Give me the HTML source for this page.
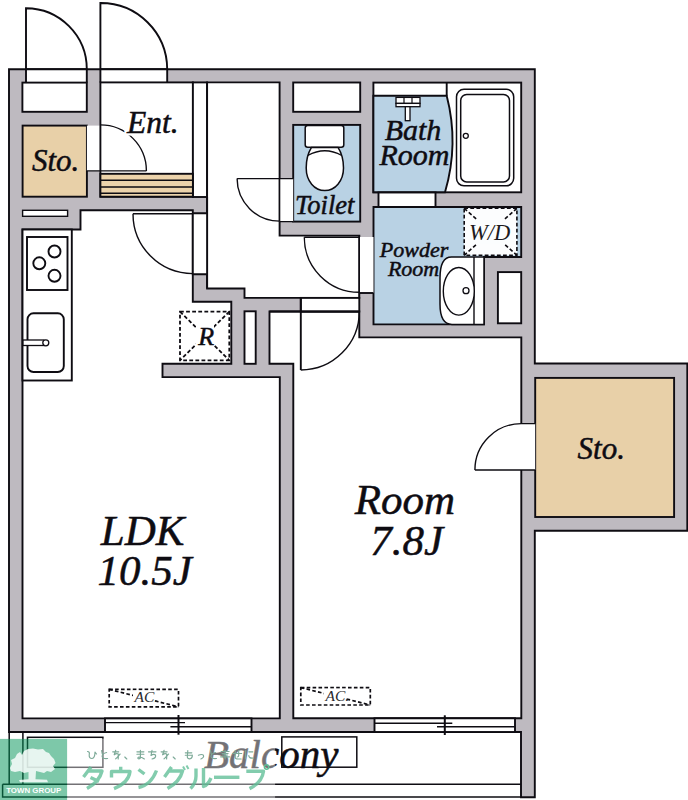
<!DOCTYPE html>
<html><head><meta charset="utf-8">
<style>
html,body{margin:0;padding:0;background:#fff;}
body{width:688px;height:800px;overflow:hidden;}
svg{display:block;}
text{font-family:"Liberation Serif",serif;font-style:italic;fill:#0e0c12;stroke:#0e0c12;stroke-width:0.5;}
.sans{font-family:"Liberation Sans",sans-serif;font-style:normal;}
</style></head>
<body>
<svg width="688" height="800" viewBox="0 0 688 800">
<g fill="none" stroke="#0e0c12" stroke-width="1.9" stroke-linejoin="miter">
<!-- ===== outer building ===== -->
<path fill="#bebac0" d="M9 69.2H534.8V363.5H687.3V530.8H534.8V797.3H521V732H9Z"/>

<!-- ===== top-left outdoor box + door ===== -->
<rect x="26" y="69.2" width="60.8" height="13.4" fill="#fff" stroke="none"/>
<rect x="22.4" y="82.6" width="64.4" height="29.2" fill="#fff"/>
<path d="M26 82.6V8.2A61 61 0 0 1 86.8 69.2V82.6"/>

<!-- entrance door -->
<rect x="100.4" y="69.2" width="67" height="13.2" fill="#fff" stroke="none"/>
<path d="M100.4 82.4V3A66.5 66.5 0 0 1 167.2 69.2V82.4"/>
<path d="M26 69.2H86.8M100.4 69.2H167.2"/>

<!-- Sto left -->
<rect x="22.6" y="125.6" width="64.3" height="71.1" fill="#e8d0a8"/>
<rect x="86.9" y="125.6" width="13.4" height="45.3" fill="#fff" stroke="none"/>

<!-- entrance hall -->
<rect x="100.4" y="82.4" width="92.5" height="114.3" fill="#fff"/>
<rect x="192.9" y="82.4" width="14.2" height="114.6" fill="#fff"/>
<!-- step -->
<rect x="100.4" y="173.8" width="92.5" height="22.9" fill="#ecd3ab"/>
<path d="M100.4 180.3H192.9M100.4 187H192.9M100.4 193.3H192.9" stroke-width="1.4"/>
<!-- closet door -->
<path d="M86.9 170.9H146.4M100.4 124.9A46 46 0 0 1 146.4 170.9" stroke-width="1.4"/>

<!-- slot in gray -->
<rect x="22.6" y="210.3" width="45" height="6" fill="#fff" stroke-width="1.4"/>

<!-- hallway -->
<path fill="#fff" d="M207.1 82.4H279.6V235.6H359.3V297.9H244.5V288.5H207.1Z"/>

<!-- LDK -->
<path fill="#fff" d="M22.5 229.5H80.5V210.2H192.8V301.8H231.3V363.8H162.5V377.1H279.8V718.4H22.5Z"/>
<!-- LDK door opening -->
<rect x="192.8" y="213.5" width="14.3" height="60.8" fill="#fff" stroke="none"/>
<path d="M192.8 213.5V274.3H206.5M207.1 197V288.5M192.8 213.3H207.1"/>
<path d="M133 213.8H192.8M133 213.8A59.8 59.8 0 0 0 192.8 273.6" stroke-width="1.4"/>

<!-- PS shaft -->
<rect x="244.5" y="311.3" width="11.2" height="52.5" fill="#fff"/>

<!-- Room -->
<path fill="#fff" d="M269.5 311.5H359.3V337.4H521.3V718.3H293.3V363.8H269.5Z"/>
<!-- Room door opening -->
<rect x="300.8" y="297.9" width="58.5" height="13.6" fill="#fff"/>
<path d="M300.8 297.9V370.1M269.5 311.5H359.3"/>
<path d="M359.3 311.5A58.5 58.5 0 0 1 300.8 370" stroke-width="1.4"/>

<!-- box above toilet -->
<rect x="293.2" y="82.5" width="67" height="29.3" fill="#fff"/>
<!-- Toilet -->
<rect x="293.2" y="124.9" width="67" height="96.7" fill="#b9d2e4"/>
<!-- toilet door -->
<rect x="279.6" y="178.6" width="13.6" height="43" fill="#fff" stroke="none"/>
<path d="M237.1 178.6H293.2M237.1 178.6A42.5 42.5 0 0 0 279.6 221.1M279.6 221.6H293.2M279.6 178.6V221.6" stroke-width="1.4"/>

<!-- Bath -->
<rect x="373.4" y="82.6" width="147.8" height="109.7" fill="#fff"/>
<path fill="#b9d2e4" d="M373.4 95.8H446.7Q459.2 144 445 192.3H373.4Z"/>
<path d="M446.7 82.8V95.8"/>
<!-- bath door threshold -->
<rect x="378.5" y="192.5" width="57" height="14.5" fill="#fff"/>

<!-- Powder -->
<path fill="#b9d2e4" d="M373.5 207H521.2V257H484V324.4H373.5Z"/>
<rect x="497.9" y="272.1" width="23.3" height="51.2" fill="#fff"/>
<!-- powder door -->
<rect x="359.3" y="237" width="14.2" height="56" fill="#fff" stroke="none"/>
<path d="M359.3 236V297.9M304.3 237.3H359.3M304.3 237.3A55 55 0 0 0 359.3 292.3" stroke-width="1.4"/>
<path d="M359.3 293H373.5"/>

<!-- Sto right -->
<rect x="535.2" y="377.9" width="138.9" height="139.1" fill="#e8d0a8"/>
<rect x="519.8" y="423.6" width="15.4" height="46.4" fill="#fff" stroke="none"/>
<path d="M474.9 470H535.2M521.3 423.6H535.2M474.9 470A46.4 46.4 0 0 1 521.3 423.6" stroke-width="1.4"/>

<!-- kitchen -->
<rect x="22.5" y="229.5" width="49.3" height="151" fill="#fff"/>
<rect x="27" y="237" width="40.5" height="53" fill="#fff"/>
<circle cx="54.5" cy="251.5" r="6"/>
<circle cx="39.3" cy="263.3" r="6"/>
<circle cx="54.5" cy="275.8" r="6"/>
<rect x="27.5" y="313.3" width="36.3" height="58.7" rx="6" fill="#fff"/>
<rect x="23" y="340" width="20.8" height="5.5" fill="#fff" stroke-width="1.3"/>
<circle cx="45.8" cy="342.8" r="3" fill="#fff" stroke-width="1.3"/>

<!-- toilet fixture -->
<rect x="305.2" y="125.5" width="38.6" height="21.7" rx="2.5" fill="#fff" stroke-width="1.5"/>
<path fill="#fff" stroke-width="1.5" d="M311.5 147.4H338Q343.5 156 343.5 168C343.5 181 335 190.6 324.8 190.6C314.5 190.6 306.2 181 306.2 168Q306.2 156 311.5 147.4Z"/>
<path stroke-width="1.3" d="M307.8 155.5Q324.8 146 341.8 155.5"/>

<!-- bathtub -->
<rect x="456.5" y="89.3" width="57.2" height="96.5" rx="7.5" fill="#fff" stroke-width="1.5"/>
<rect x="460.7" y="94.4" width="48.8" height="87.5" rx="6" fill="#fff" stroke-width="1.5"/>
<circle cx="465.8" cy="135.8" r="2.5" stroke-width="1.3"/>
<!-- faucet -->
<rect x="396" y="97.4" width="24" height="6" fill="#fff" stroke-width="1.3"/>
<path d="M404 97.4V103.4M412 97.4V103.4" stroke-width="1.2"/>
<rect x="396" y="103.4" width="24" height="3.3" fill="#fff" stroke-width="1.3"/>
<rect x="405.3" y="106.7" width="4.7" height="14" fill="#fff" stroke-width="1.3"/>

<!-- sink (powder) -->
<path fill="#fff" stroke-width="1.5" d="M484 257H451.5Q440 257 440 278V304Q440 324.4 452 324.4H484Z"/>
<path d="M474 257V324.4" stroke-width="1.4"/>
<ellipse cx="458.8" cy="291.3" rx="15.5" ry="23.8" fill="#fff" stroke-width="1.4"/>
<circle cx="466" cy="290.7" r="3" stroke-width="1.3"/>

<!-- W/D -->
<rect x="464.2" y="208.3" width="52.7" height="47" fill="#fcfdfe" stroke="none"/>
<g stroke-dasharray="3.8 2.3" stroke-width="1.8">
<rect x="464.2" y="208.3" width="52.7" height="47" stroke-width="1.6"/>
<path d="M464.2 208.3L516.9 255.3M516.9 208.3L464.2 255.3" stroke-width="1.6"/>
</g>
<rect x="469" y="220" width="44" height="24" fill="#fbfdfe" stroke="none"/>

<!-- R box -->
<g stroke-dasharray="3.8 2.3" stroke-width="1.8">
<rect x="180" y="311.6" width="49.3" height="48.7"/>
<path d="M180 311.6L229.3 360.3M229.3 311.6L180 360.3"/>
</g>
<rect x="196" y="324" width="18" height="22" fill="#fff" stroke="none"/>

<!-- AC boxes -->
<g stroke-dasharray="3.6 2.3" stroke-width="1.7">
<rect x="109.2" y="689.4" width="69.3" height="17.4"/>
<path d="M109.2 689.4L178.5 706.8"/>
<rect x="300.8" y="687.6" width="69.5" height="17.4"/>
<path d="M300.8 687.6L370.3 705"/>
</g>
<rect x="133" y="690.5" width="22" height="14" fill="#fff" stroke="none"/>
<rect x="324" y="688.7" width="22" height="14" fill="#fff" stroke="none"/>

<!-- windows -->
<rect x="105" y="718.4" width="146.5" height="13.6" fill="#fff"/>
<path d="M105 722.6H185M170.4 726.8H251.5" stroke-width="1.4"/><path d="M178.5 715V734.7" stroke-width="2"/>
<rect x="374.5" y="718.3" width="140.5" height="13.7" fill="#fff"/>
<path d="M374.5 723.2H452.3M437 726.7H515" stroke-width="1.4"/><path d="M444.8 715.3V735" stroke-width="2"/>

<!-- balcony -->
<path d="M9.2 732V784.3M22.9 732V784.3M2.6 784.3H521M2.6 784.3V797H521" stroke-width="1.5"/>
<rect x="27.5" y="737.3" width="75.4" height="30" fill="#fff" stroke-width="1.5"/>
<rect x="281.8" y="736.9" width="75" height="30.3" fill="#fff" stroke-width="1.5"/>
</g>

<!-- ===== texts ===== -->
<text x="126.9" y="133.3" font-size="31.5" style="stroke:#fff;stroke-width:5;fill:#fff">Ent.</text>
<text x="126.9" y="133.3" font-size="31.5">Ent.</text>
<text x="32" y="170.5" font-size="31">Sto.</text>
<text x="577.6" y="458.7" font-size="31">Sto.</text>
<text x="384.7" y="139.8" font-size="30">Bath</text>
<text x="379.4" y="164.9" font-size="30">Room</text>
<text x="295" y="214.1" font-size="26.5">Toilet</text>
<text x="379.8" y="257" font-size="22">Powder</text>
<text x="387.9" y="276.3" font-size="22">Room</text>
<text x="469" y="239.5" font-size="22.5" style="stroke:none;fill:#1c1a20">W/D</text>
<text x="198.2" y="344.7" font-size="26">R</text>
<text x="100.8" y="544.8" font-size="43">LDK</text>
<text x="97.6" y="585" font-size="43">10.5J</text>
<text x="354.7" y="513.8" font-size="43">Room</text>
<text x="370.2" y="554.5" font-size="43">7.8J</text>
<text x="134.5" y="702.2" font-size="15.5" style="stroke:none;fill:#2a2a2e">AC.</text>
<text x="325.5" y="700.5" font-size="15.5" style="stroke:none;fill:#2a2a2e">AC.</text>
<text x="204" y="768.4" font-size="41">Balcony</text>

<!-- ===== watermark ===== -->
<rect x="67.1" y="738.6" width="208" height="61.4" fill="#fff" fill-opacity="0.42"/>
<rect x="0" y="738.9" width="67.1" height="61.1" fill="rgb(5,150,90)" fill-opacity="0.52"/>
<!-- tree -->
<path fill="#fff" fill-opacity="0.82" d="M10 768L12 764L11 760L15 758L17 754L20 752L22 755L24 751L28 749L33 748.5L38 749.5L43 749L46 752L49 753L51 756L54 759L55.5 763L53 766L55 769L51 772L47 771L44 773L40 772L36 771L35.5 779.3L47 779.8L48 782.2L20 782.2L19 780L28.5 779.3L28.5 772L24 773L20 771L15 772L11 771Z"/>
<text class="sans" x="6.2" y="793" font-size="7.9" font-weight="bold" style="fill:#fff;stroke:none;font-style:normal">TOWN GROUP</text>
<g fill="none" stroke="rgb(125,170,152)" stroke-width="1.15" stroke-linecap="round" stroke-linejoin="round">
<path transform="translate(87.0 750)" d="M0.5 1.5Q3 1.5 2.2 5Q2 8.5 5 8.5Q8 8 8 2L9.5 4"/>
<path transform="translate(99.1 750)" d="M2.5 0.5L3.2 4M7.5 2.5Q3 3.5 3 6.5Q3.2 9 8.5 8.5"/>
<path transform="translate(111.2 750)" d="M1.5 1.8H7.5M4.5 0.3L3 4.8Q5.5 2.8 7 4Q7.8 6.2 4.5 8.8M9 4Q6.5 5.5 7 9"/>
<path transform="translate(123.3 750)" d="M1.5 7L3.5 9"/>
<path transform="translate(135.4 750)" d="M1.5 1.8H8.5M1.5 4.2H8.5M5 0.3V7.5Q5 9 3 8.8Q1.5 8 3.5 7Q6.5 7 9 9"/>
<path transform="translate(147.5 750)" d="M1 1.8H8.5M4.5 0.3L3.5 5.5Q6 3.5 8 5Q9 8 4.5 9"/>
<path transform="translate(159.6 750)" d="M1.5 1.8H7.5M4.5 0.3L3 4.8Q5.5 2.8 7 4Q7.8 6.2 4.5 8.8M9 4Q6.5 5.5 7 9"/>
<path transform="translate(171.7 750)" d="M1.5 7L3.5 9"/>
<path transform="translate(183.8 750)" d="M1.5 2.8H8M1.5 5.2H8M4 0.5L3.5 7Q3.7 9 6.5 8.8Q8.8 8 8.5 5"/>
<path transform="translate(195.9 750)" d="M2.5 5.2Q6 3.8 7.5 5.2Q8.5 7.5 5 9"/>
<path transform="translate(208.0 750)" d="M2.5 0.5L3.2 4M7.5 2.5Q3 3.5 3 6.5Q3.2 9 8.5 8.5"/>
<path transform="translate(220.1 750)" d="M1 1.5H9M5 0.3V9M2 3.5H8M2.5 5H7.5M0.5 6.8H9.5"/>
<path transform="translate(232.2 750)" d="M0.5 3.5H9.5M6.5 0.5V5.5Q6.5 7 5 7M3 0.5V7.5Q3 9 6 9H9"/>
<path transform="translate(244.3 750)" d="M1.5 0.5L1 9M4.5 1.8H8.5M4.5 5.5Q4.5 8.5 9 8"/>
</g>
<g fill="none" stroke="rgb(95,190,150)" stroke-opacity="0.78" stroke-width="3.4" stroke-linecap="butt" stroke-linejoin="round">
<path d="M91 767L83.5 777M88.5 771H102Q99.5 781.5 87 788.6M90.5 777.5L99 781.5"/>
<path d="M120.7 766.8V771.5M111.5 777.5V771.5H130Q128.5 783 114 788.6"/>
<path d="M138.5 769.5L144.5 774M138.5 787.5Q151 785 156.5 770.5"/>
<path d="M171.5 767L164.5 777M169 771H182.5Q180 781.5 167.5 788.6"/>
<path d="M183 766.5L185 770M186.5 765.5L188.5 769" stroke-width="2"/>
<path d="M196 768.5V776Q196 783 190.5 788.5M203.5 768V786.5Q208 785 211 778"/>
<path d="M214 777.3H239.4"/>
<path d="M246.3 771.2H263.5Q262 782.5 249.5 788.6"/>
</g>
<circle cx="266.6" cy="767" r="2.2" fill="none" stroke="rgb(95,190,150)" stroke-width="1.5"/>
</svg>
</body></html>
